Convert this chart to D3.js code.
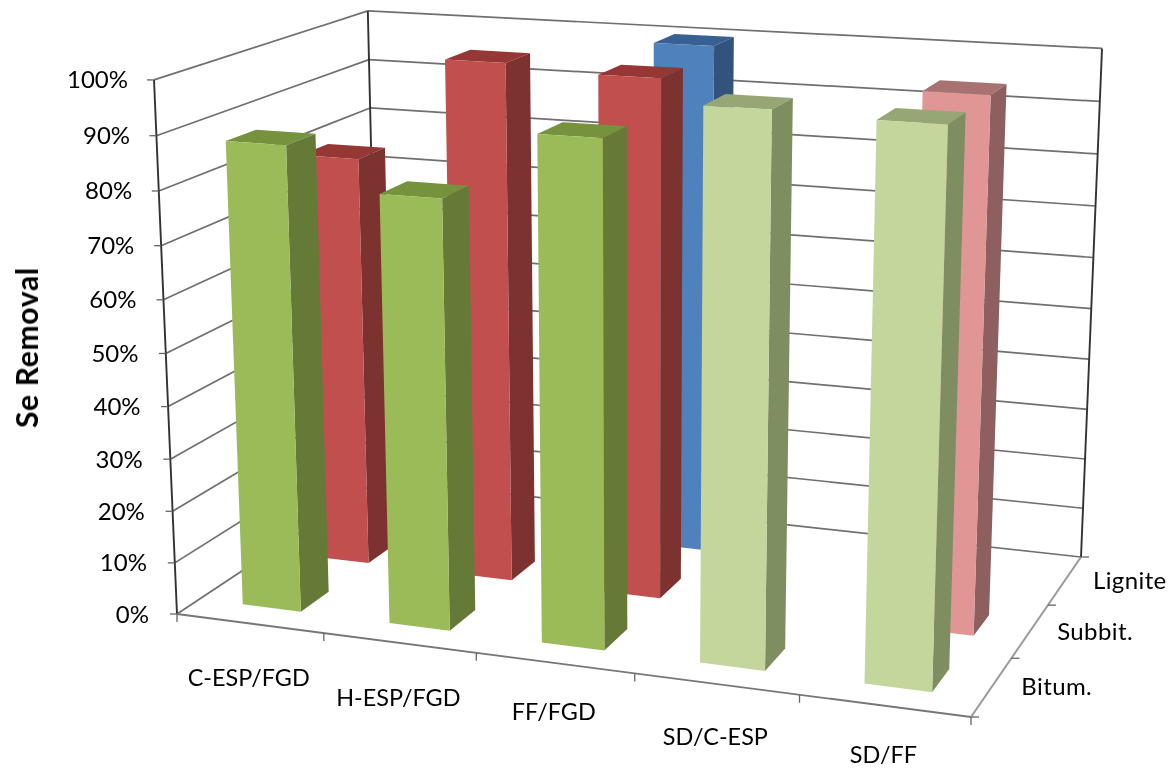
<!DOCTYPE html>
<html><head><meta charset="utf-8">
<script src="https://cdnjs.cloudflare.com/ajax/libs/d3/7.8.5/d3.min.js"></script>
<style>html,body{margin:0;background:#fff}svg{display:block}text{font-family:Lato,"Open Sans",sans-serif;fill:#000}</style>
</head><body><svg id="c" width="1172" height="768"></svg>
<script>
const categories = ["C-ESP/FGD","H-ESP/FGD","FF/FGD","SD/C-ESP","SD/FF"];
const depths = ["Bitum.","Subbit.","Lignite"];
const valueTicks = [0,10,20,30,40,50,60,70,80,90,100];
const bitumValues = [88,80.4,93,99.7,99];
const subbitValues = [80,99.8,98.6,null,99];
const ligniteValues = [null,null,100,null,null];
const seriesValues = [bitumValues,subbitValues,ligniteValues];
const palette = {
  green:{front:"#9BBB59",side:"#667A38",top:"#76923C"},
  red:{front:"#C0504D",side:"#7B302E",top:"#953735"},
  blue:{front:"#4F81BD",side:"#31527B",top:"#376092"},
  lightGreen:{front:"#C3D69B",side:"#7F8E60",top:"#97A675"},
  pink:{front:"#DF9694",side:"#8D5F5E",top:"#A87270"}
};
const seriesColors = [
  ["green","green","green","lightGreen","lightGreen"],
  ["red","red","red","red","pink"],
  ["blue","blue","blue","blue","blue"]
];
const xLabelDy = [54,54,48,52,48];

// Perspective camera: floor quad corners + vertical vanishing point
const A=[177,614],F=[971,717],B=[379,480],R=[1081,557],VP=[637,11300],cA=-0.0476;
const dx1=F[0]-R[0],dx2=B[0]-R[0],sx=A[0]-F[0]+R[0]-B[0];
const dy1=F[1]-R[1],dy2=B[1]-R[1],sy=A[1]-F[1]+R[1]-B[1];
const den=dx1*dy2-dx2*dy1;
const g=(sx*dy2-dx2*sy)/den,h=(dx1*sy-sx*dy1)/den;
const a=F[0]-A[0]+g*F[0],b=B[0]-A[0]+h*B[0],d=F[1]-A[1]+g*F[1],e=B[1]-A[1]+h*B[1];
function project(u,w,t){
  const X=a*u+b*w+A[0],Y=d*u+e*w+A[1],W=g*u+h*w+1;
  return [(X+t*cA*VP[0])/(W+t*cA),(Y+t*cA*VP[1])/(W+t*cA)];
}
const uScale=d3.scaleBand().domain(categories).range([0,1]).paddingInner(0.6).paddingOuter(0.3);
const wScale=d3.scaleBand().domain(depths).range([0,1]).paddingInner(0.6).paddingOuter(0.3);
const uCell=d3.scaleBand().domain(categories).range([0,1]);
const wCell=d3.scaleBand().domain(depths).range([0,1]);
const vScale=d3.scaleLinear().domain([0,100]).range([0,1]);
const yLabelRight=d3.scaleLinear().domain([0,100]).range([149,128]);

const svg=d3.select("#c");
const defs=svg.append("defs");
defs.append("filter").attr("id","soft").append("feGaussianBlur").attr("stdDeviation",0.5);
const root=svg.append("g").attr("filter","url(#soft)");
const line=d3.line();
const seg=(p,q)=>line([p,q]);

// walls
const grid=root.append("g").attr("fill","none");
grid.selectAll("path.l").data(valueTicks).join("path").attr("class","l")
  .attr("stroke","#6f6f6f").attr("stroke-width",1.7)
  .attr("d",v=>seg(project(0,0,vScale(v)),project(0,1,vScale(v))));
grid.selectAll("path.b").data(valueTicks).join("path").attr("class","b")
  .attr("stroke","#6f6f6f").attr("stroke-width",1.7)
  .attr("d",v=>seg(project(0,1,vScale(v)),project(1,1,vScale(v))));
grid.selectAll("path.v").data([[0,0],[0,1],[1,1]]).join("path").attr("class","v")
  .attr("stroke","#333").attr("stroke-width",1.9)
  .attr("d",c=>seg(project(c[0],c[1],0),project(c[0],c[1],1)));
// floor axes
grid.append("path").attr("stroke","#777").attr("stroke-width",1.9).attr("d",seg(project(0,0,0),project(1,0,0)));
grid.append("path").attr("stroke","#999").attr("stroke-width",2.1).attr("d",seg(project(1,0,0),project(1,1,0)));
// ticks
grid.selectAll("path.ty").data(valueTicks).join("path").attr("class","ty").attr("stroke","#666").attr("stroke-width",1.3)
  .attr("d",v=>{const p=project(0,0,vScale(v));return seg([p[0]-7,p[1]],p);});
const xEdges=[0,...categories.map(c=>uCell(c)+uCell.bandwidth())];
grid.selectAll("path.tx").data(xEdges).join("path").attr("class","tx").attr("stroke","#666").attr("stroke-width",1.3)
  .attr("d",u=>{const p=project(u,0,0);return seg(p,[p[0],p[1]+8]);});
const wEdges=[0,...depths.map(c=>wCell(c)+wCell.bandwidth())];
grid.selectAll("path.tz").data(wEdges).join("path").attr("class","tz").attr("stroke","#666").attr("stroke-width",1.3)
  .attr("d",w=>{const p=project(1,w,0);return seg(p,[p[0]+8,p[1]]);});

// bars, back to front
const bars=[];
depths.forEach((dp,j)=>categories.forEach((c,i)=>{
  const val=seriesValues[j][i];
  if(val!=null) bars.push({c,dp,j,i,val,colors:palette[seriesColors[j][i]]});
}));
bars.sort((p,q)=>q.j-p.j||p.i-q.i);
const poly=pts=>line(pts)+"Z";
const barG=root.append("g").selectAll("g").data(bars).join("g");
function corners(k){
  const u0=uScale(k.c),u1=u0+uScale.bandwidth(),w0=wScale(k.dp),w1=w0+wScale.bandwidth(),t=vScale(k.val);
  return {u0,u1,w0,w1,t};
}
barG.append("path").attr("fill",k=>k.colors.top).attr("d",k=>{const q=corners(k);
  return poly([project(q.u0,q.w0,q.t),project(q.u1,q.w0,q.t),project(q.u1,q.w1,q.t),project(q.u0,q.w1,q.t)]);});
barG.append("path").attr("fill",k=>k.colors.side).attr("d",k=>{const q=corners(k);
  return poly([project(q.u1,q.w0,0),project(q.u1,q.w1,0),project(q.u1,q.w1,q.t),project(q.u1,q.w0,q.t)]);});
barG.append("path").attr("fill",k=>k.colors.front).attr("d",k=>{const q=corners(k);
  return poly([project(q.u0,q.w0,0),project(q.u1,q.w0,0),project(q.u1,q.w0,q.t),project(q.u0,q.w0,q.t)]);});

// labels
const labels=root.append("g").attr("font-size",24);
labels.selectAll("text.y").data(valueTicks).join("text").attr("class","y")
  .attr("text-anchor","end").attr("dominant-baseline","central")
  .attr("x",v=>yLabelRight(v)).attr("y",v=>project(0,0,vScale(v))[1]-1)
  .text(v=>v+"%");
labels.selectAll("text.x").data(categories).join("text").attr("class","x")
  .attr("text-anchor","middle").attr("dominant-baseline","central").attr("font-size",23.4)
  .attr("x",c=>project(uCell(c)+uCell.bandwidth()/2,0,0)[0]-1)
  .attr("y",(c,i)=>project(uCell(c)+uCell.bandwidth()/2,0,0)[1]+xLabelDy[i])
  .text(c=>c);
labels.selectAll("text.z").data(depths).join("text").attr("class","z")
  .attr("text-anchor","middle").attr("dominant-baseline","central").attr("font-size",24).attr("letter-spacing",0.4)
  .attr("x",c=>project(1,wCell(c)+wCell.bandwidth()/2,0)[0]+65)
  .attr("y",c=>project(1,wCell(c)+wCell.bandwidth()/2,0)[1]-1)
  .text(c=>c);
root.append("text").attr("transform","translate(26,347.5) rotate(-90)").attr("text-anchor","middle")
  .attr("dominant-baseline","central").attr("font-weight","bold").attr("font-size",30).attr("letter-spacing",0.7).text("Se Removal");
</script></body></html>
